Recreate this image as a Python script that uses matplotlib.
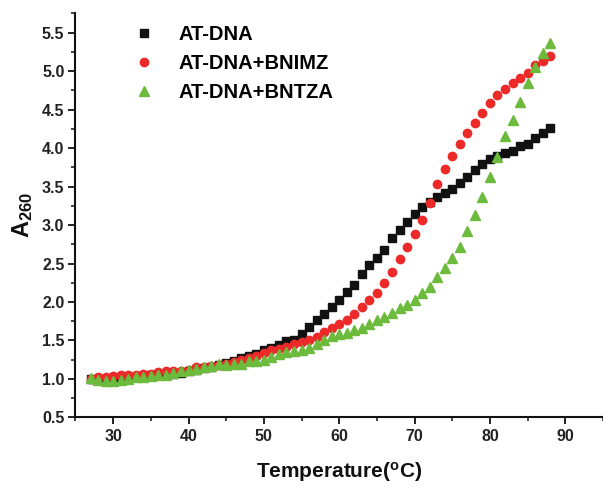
import matplotlib
matplotlib.use("Agg")
import matplotlib.pyplot as plt
from matplotlib.ticker import MultipleLocator

plt.rcParams['font.family'] = ['Liberation Sans', 'DejaVu Sans']
plt.rcParams['mathtext.fontset'] = 'custom'
plt.rcParams['mathtext.rm'] = 'Liberation Sans:bold'
plt.rcParams['mathtext.bf'] = 'Liberation Sans:bold'
plt.rcParams['mathtext.it'] = 'Liberation Sans:bold'

temperature = list(range(27, 89))

at_dna = [1.00, 1.00, 1.00, 1.01, 1.02, 1.03, 1.03, 1.04, 1.05, 1.06, 1.06, 1.07, 1.08,
          1.10, 1.12, 1.14, 1.16, 1.18, 1.21, 1.24, 1.27, 1.30, 1.33, 1.37, 1.40,
          1.44, 1.49, 1.51, 1.59, 1.67, 1.77, 1.84, 1.94, 2.03, 2.13, 2.22, 2.36,
          2.48, 2.57, 2.68, 2.83, 2.94, 3.04, 3.14, 3.24, 3.30, 3.37, 3.42, 3.47,
          3.55, 3.63, 3.71, 3.79, 3.86, 3.90, 3.93, 3.96, 4.02, 4.05, 4.13, 4.20, 4.26]

at_dna_bnimz = [1.00, 1.02, 1.03, 1.04, 1.05, 1.05, 1.05, 1.06, 1.07, 1.09, 1.10, 1.10, 1.11,
                1.12, 1.15, 1.16, 1.17, 1.18, 1.20, 1.22, 1.25, 1.27, 1.30, 1.34, 1.37,
                1.39, 1.42, 1.46, 1.48, 1.50, 1.54, 1.61, 1.66, 1.71, 1.76, 1.84, 1.94,
                2.02, 2.12, 2.25, 2.39, 2.56, 2.72, 2.88, 3.07, 3.28, 3.53, 3.73, 3.90,
                4.05, 4.20, 4.33, 4.46, 4.59, 4.69, 4.77, 4.84, 4.91, 4.98, 5.08, 5.13, 5.19]

at_dna_bntza = [1.01, 0.99, 0.98, 0.98, 0.99, 1.00, 1.02, 1.03, 1.04, 1.05, 1.05, 1.08, 1.10,
                1.12, 1.13, 1.15, 1.17, 1.19, 1.18, 1.19, 1.20, 1.23, 1.24, 1.25, 1.28,
                1.32, 1.35, 1.36, 1.38, 1.40, 1.46, 1.50, 1.56, 1.58, 1.60, 1.63, 1.66,
                1.71, 1.76, 1.80, 1.86, 1.92, 1.96, 2.03, 2.12, 2.20, 2.32, 2.44, 2.57,
                2.71, 2.92, 3.13, 3.37, 3.63, 3.89, 4.15, 4.37, 4.60, 4.84, 5.05, 5.23, 5.36]

labels = ['AT-DNA', 'AT-DNA+BNIMZ', 'AT-DNA+BNTZA']
x_ticks = [30, 40, 50, 60, 70, 80, 90]
y_ticks = [0.5, 1.0, 1.5, 2.0, 2.5, 3.0, 3.5, 4.0, 4.5, 5.0, 5.5]

fig = plt.figure(figsize=(6.03, 4.86), dpi=100)
ax = fig.add_axes([0.1252, 0.141, 0.8748, 0.8316])

ax.plot(temperature, at_dna, linestyle='none', marker='s', ms=5.8, color='#111111',
        label=labels[0], zorder=3)
ax.plot(temperature, at_dna_bnimz, linestyle='none', marker='o', ms=6.0, color='#ec2a2a',
        label=labels[1], zorder=4)
ax.plot(temperature, at_dna_bntza, linestyle='none', marker='^', ms=7.0, color='#6cbb3c',
        label=labels[2], zorder=5)

ax.set_xlim(25, 95)
ax.set_ylim(0.5, 5.75)
ax.set_xticks(x_ticks)
ax.set_xticklabels([str(t) for t in x_ticks])
ax.set_yticks(y_ticks)
ax.set_yticklabels([f'{t:.1f}' for t in y_ticks])
ax.xaxis.set_minor_locator(MultipleLocator(5))
ax.yaxis.set_minor_locator(MultipleLocator(0.25))

for s in ['top', 'right']:
    ax.spines[s].set_visible(False)
for s in ['left', 'bottom']:
    ax.spines[s].set_linewidth(1.5)
    ax.spines[s].set_color('#111111')

ax.tick_params(which='major', direction='out', length=5, width=1.3, labelsize=11.5,
               color='#111111', pad=3)
ax.tick_params(which='minor', direction='out', length=3, width=1.1, color='#111111')
for lab in ax.get_xticklabels() + ax.get_yticklabels():
    lab.set_fontweight('bold')
    lab.set_color('#222222')

ax.set_xlabel('Temperature($^{\\mathbf{o}}$C)', fontsize=15, fontweight='bold',
              labelpad=12, color='#111111')
ax.set_ylabel('$\\mathbf{A_{260}}$', fontsize=17, labelpad=5, color='#111111')

leg = ax.legend(loc='upper left', bbox_to_anchor=(0.096, 0.99), frameon=False,
                prop={'weight': 'bold', 'size': 14.5}, handletextpad=1.2,
                labelspacing=0.48, handlelength=1.0, borderaxespad=0.0)

fig.savefig('out.png', dpi=100)
